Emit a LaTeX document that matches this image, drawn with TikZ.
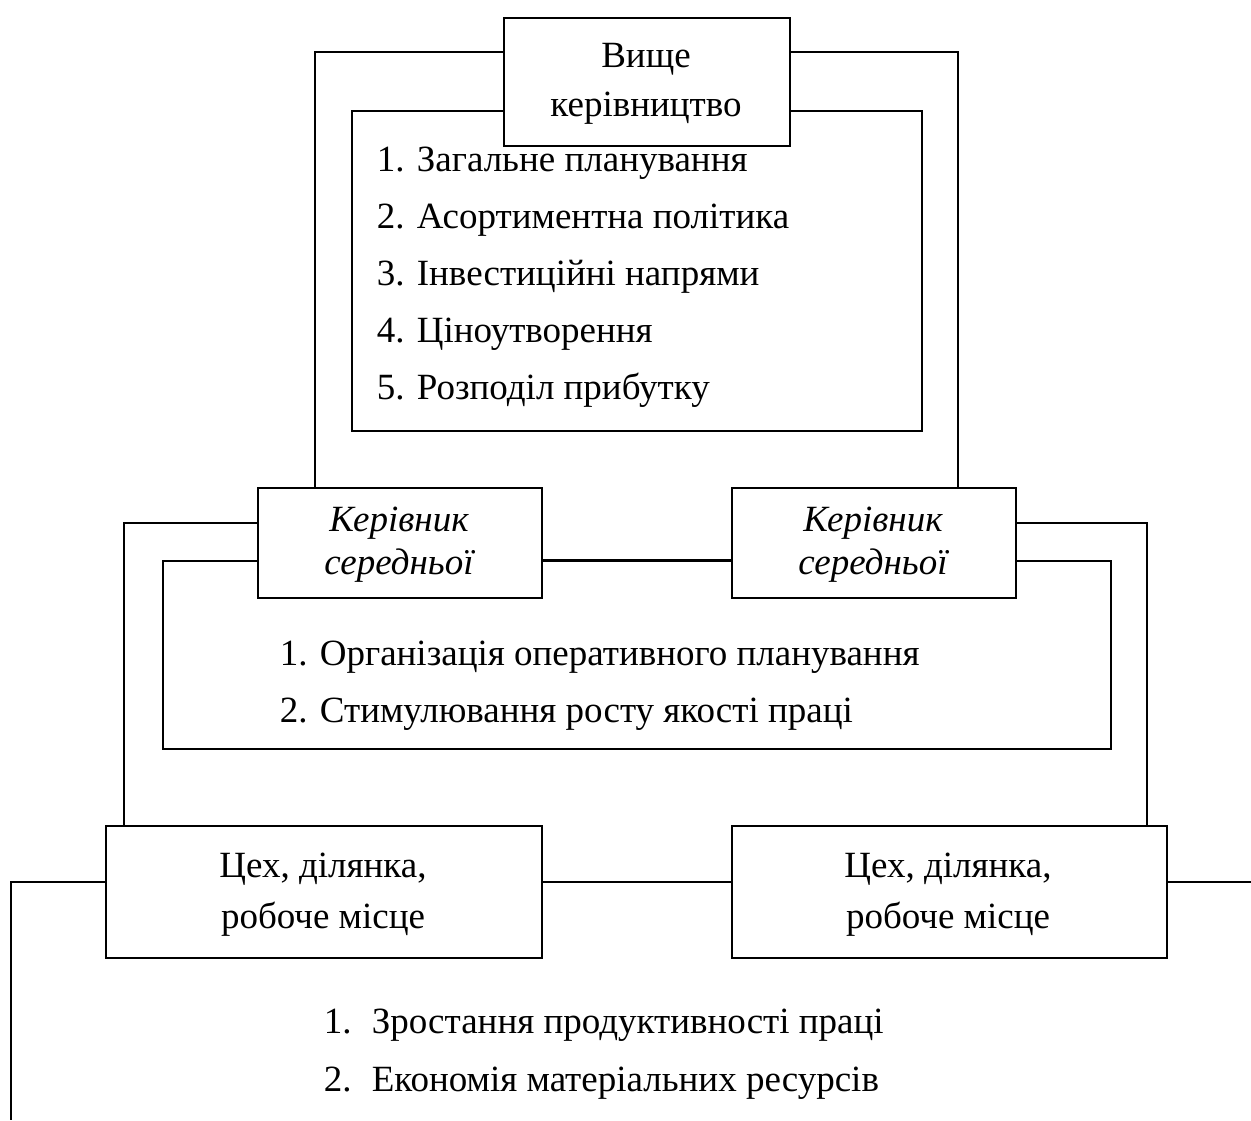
\documentclass[tikz,border=0pt]{standalone}
\usepackage{fontspec}
\setmainfont{Liberation Serif}
\begin{document}
\begin{tikzpicture}[x=1pt,y=-1pt,
  line width=1.6pt,
  frame/.style={draw,line width=2pt,inner sep=0pt,anchor=north west},
  unit/.style={draw,line width=2.4pt,fill=white,inner sep=0pt,anchor=north west},
  txt/.style={inner sep=0pt,font=\fontsize{37}{44}\selectfont},
  item/.style={txt,anchor=base west},
  ctr/.style={txt,anchor=base},
  ictr/.style={ctr,font=\fontsize{37}{44}\selectfont\itshape}]
\useasboundingbox (0,0) rectangle (1251,1120);

% frames holding the lists of tasks (drawn first, boxes cover them)
\node[frame,minimum width=570pt,minimum height=320pt] (topframe) at (351,110) {};
\node[frame,minimum width=948pt,minimum height=188pt] (midframe) at (162,560) {};

% management level boxes
\node[unit,minimum width=286pt,minimum height=128pt] (top) at (503,17) {};
\node[unit,minimum width=284pt,minimum height=110pt] (midL) at (257,487) {};
\node[unit,minimum width=284pt,minimum height=110pt] (midR) at (731,487) {};
\node[unit,minimum width=436pt,minimum height=132pt] (botL) at (105,825) {};
\node[unit,minimum width=435pt,minimum height=132pt] (botR) at (731,825) {};

% connectors
\draw (top.west |- 0,52) -| (midL.north -| 315,0);
\draw (top.east |- 0,52) -| (midR.north -| 958,0);
\draw (midL.west |- 0,523) -| (botL.north -| 124,0);
\draw (midR.east |- 0,523) -| (botR.north -| 1147,0);
\draw (midL.east |- 0,560) -- (midR.west |- 0,560);
\draw (botL.east |- 0,882) -- (botR.west |- 0,882);
\coordinate (leftend) at (11,1120);
\coordinate (rightend) at (1251,882);
\draw (botL.west |- 0,882) -| (leftend);
\draw (botR.east |- 0,882) -- (rightend);

% box captions
\node[ctr] (topA) at (646,67) {Вище};
\node[ctr] (topB) at (646,116) {керівництво};
\node[ictr] (mlA) at (399,531) {Керівник};
\node[ictr] (mlB) at (399,574) {середньої};
\node[ictr] (mrA) at (873,531) {Керівник};
\node[ictr] (mrB) at (873,574) {середньої};
\node[ctr] (blA) at (323,877) {Цех, ділянка,};
\node[ctr] (blB) at (323,928) {робоче місце};
\node[ctr] (brA) at (948,877) {Цех, ділянка,};
\node[ctr] (brB) at (948,928) {робоче місце};

% tasks of top management
\node[item] (t1) at (376,171) {1. Загальне планування};
\node[item] (t2) at (376,228) {2. Асортиментна політика};
\node[item] (t3) at (376,285) {3. Інвестиційні напрями};
\node[item] (t4) at (376,342) {4. Ціноутворення};
\node[item] (t5) at (376,399) {5. Розподіл прибутку};

% tasks of middle management
\node[item] (m1) at (279,665) {1. Організація оперативного планування};
\node[item] (m2) at (279,722) {2. Стимулювання росту якості праці};

% tasks of shops and workplaces
\node[item] (b1n) at (323,1033) {1.};
\node[item] (b1) at (371,1033) {Зростання продуктивності праці};
\node[item] (b2n) at (323,1091) {2.};
\node[item] (b2) at (371,1091) {Економія матеріальних ресурсів};
\end{tikzpicture}
\end{document}
